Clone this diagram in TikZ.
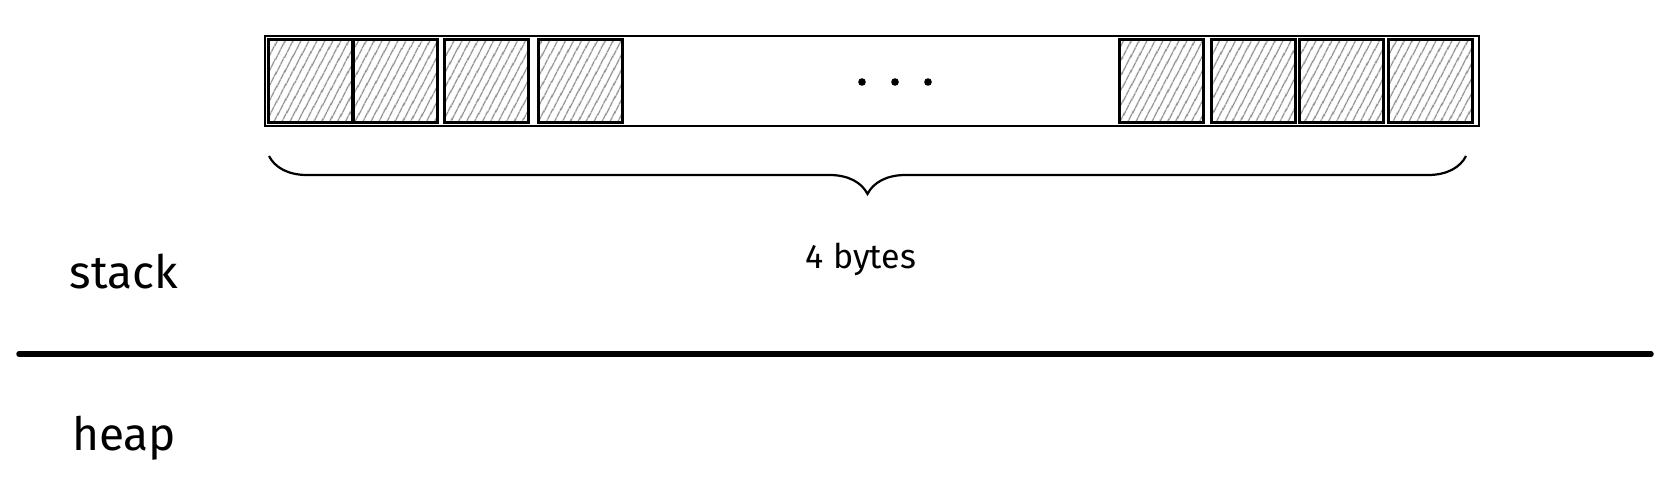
\documentclass[tikz,border=0pt]{standalone}
\usepackage{fontspec}
\setmainfont{Fira Sans}
\usetikzlibrary{patterns.meta,decorations.pathreplacing}
\definecolor{hatchgray}{HTML}{7E7E7E}
\tikzset{
  membox/.style={draw, line width=2.8pt, inner sep=0pt, outer sep=0pt,
    minimum width=1214pt, minimum height=90pt},
  bytecell/.style={draw, line width=3pt, inner sep=0pt, outer sep=0pt,
    minimum width=84pt, minimum height=83pt,
    pattern={Lines[angle=62, distance=6.5pt, line width=1.4pt]},
    pattern color=hatchgray},
  region/.style={font=\fontsize{46}{50}\selectfont, anchor=base},
}
\begin{document}
\begin{tikzpicture}[x=1pt, y=-1pt]
  \useasboundingbox (0,0) rectangle (1668,495);
  % memory strip
  \node[membox, anchor=north west] (mem) at (265,36) {};
  % hatched bytes
  \foreach \i/\cx in {1/310,2/395,3/486,4/580,5/1161,6/1253,7/1341,8/1430}
    \node[bytecell] (b\i) at (\cx,81) {};
  % ellipsis
  \foreach \dx in {862,895,928}
    \fill (\dx,82) circle (3.8);
  % brace under the strip
  \coordinate (braceL) at (269,156);
  \coordinate (braceR) at (1466,156);
  \draw[line width=2.2pt, decorate,
    decoration={brace, mirror, amplitude=38pt}] (braceL) -- (braceR);
  \node[font=\fontsize{34}{38}\selectfont, anchor=base] (size) at (861,268) {4 bytes};
  % stack / heap divider
  \draw[line width=5.5pt, line cap=round] (19,354) -- (1651,354);
  \node[region] (stack) at (124,288) {stack};
  \node[region] (heap) at (124,450) {heap};
\end{tikzpicture}
\end{document}
